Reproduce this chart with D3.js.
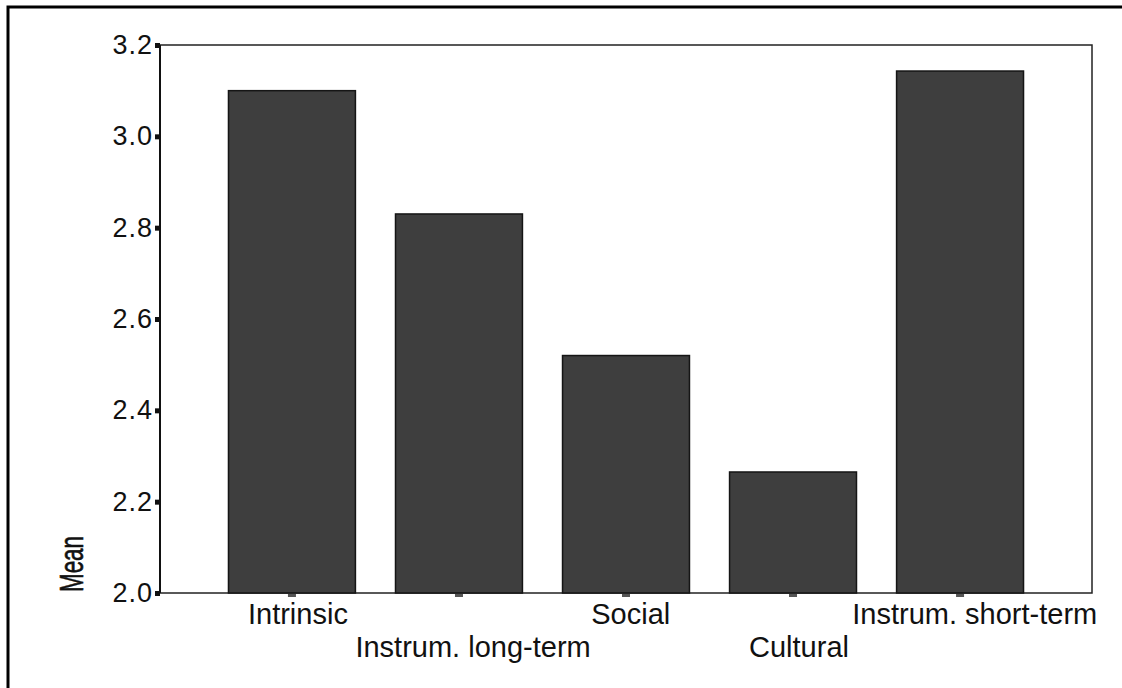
<!DOCTYPE html>
<html>
<head>
<meta charset="utf-8">
<script src="https://cdn.jsdelivr.net/npm/d3@7"></script>
<style>
  body { margin: 0; background: #fff; }
  text { font-family: "Liberation Sans", Arial, sans-serif; fill: #111; }
</style>
</head>
<body>
<script>
const categories = ['Intrinsic', 'Instrum. long-term', 'Social', 'Cultural', 'Instrum. short-term'];
const means = [3.10, 2.83, 2.52, 2.265, 3.143];
const yTicks = [2.0, 2.2, 2.4, 2.6, 2.8, 3.0, 3.2];

let width = 1122, height = 688;
let plot = { left: 160, right: 1092, top: 45, bottom: 593 };

let svg = d3.select('body').append('svg').attr('width', width).attr('height', height);

// outer frame (only left and top edges visible in the picture)
svg.append('rect')
  .attr('x', 8).attr('y', 7)
  .attr('width', 1300).attr('height', 900)
  .attr('fill', 'none').attr('stroke', '#000').attr('stroke-width', 3);

let x = d3.scaleBand()
  .domain(categories)
  .range([plot.left, plot.right])
  .paddingInner(0.24)
  .paddingOuter(0.41);

let y = d3.scaleLinear().domain([2.0, 3.2]).range([plot.bottom, plot.top]);

// plot box
svg.append('rect')
  .attr('x', plot.left).attr('y', plot.top)
  .attr('width', plot.right - plot.left).attr('height', plot.bottom - plot.top)
  .attr('fill', 'none').attr('stroke', '#222').attr('stroke-width', 1.5);

// bars
svg.append('g')
  .selectAll('rect')
  .data(categories)
  .enter()
    .append('rect')
    .attr('x', d => x(d))
    .attr('width', x.bandwidth())
    .attr('y', (d, i) => y(means[i]))
    .attr('height', (d, i) => y(2.0) - y(means[i]))
    .attr('fill', '#3e3e3e')
    .attr('stroke', '#151515')
    .attr('stroke-width', 1.5);

// left axis line (a bit heavier)
svg.append('line')
  .attr('x1', plot.left).attr('x2', plot.left)
  .attr('y1', plot.top).attr('y2', plot.bottom)
  .attr('stroke', '#111').attr('stroke-width', 2);

// y axis
let yAxis = svg.append('g')
  .attr('transform', `translate(${plot.left},0)`)
  .call(d3.axisLeft(y).tickValues(yTicks).tickFormat(d3.format('.1f')).tickSize(5).tickPadding(2));
yAxis.select('.domain').remove();
yAxis.selectAll('.tick line').attr('stroke', '#111').attr('stroke-width', 5);
yAxis.selectAll('.tick text')
  .style('font-size', '27px')
  .attr('letter-spacing', '1px')
  .attr('fill', '#111');

// x axis ticks: little dashes under the bars
svg.append('g')
  .selectAll('rect')
  .data(categories)
  .enter()
    .append('rect')
    .attr('x', d => x(d) + x.bandwidth() / 2 - 4)
    .attr('y', plot.bottom + 1)
    .attr('width', 8)
    .attr('height', 3)
    .attr('fill', '#555');

// staggered category labels - in the original they sit a little right of the tick
svg.append('g')
  .selectAll('text')
  .data(categories)
  .enter()
    .append('text')
    .attr('y', (d, i) => i % 2 === 0 ? 624 : 657)
    .attr('text-anchor', 'start')
    .style('font-size', '29px')
    .text(d => d)
    .each(function(d) {
      let w = this.getComputedTextLength();
      d3.select(this).attr('x', x(d) + x.bandwidth() / 2 - 0.44 * w);
    });

// y title
svg.append('text')
  .attr('transform', 'translate(83,564) rotate(-90)')
  .attr('text-anchor', 'middle')
  .style('font-size', '33px')
  .attr('stroke', '#111')
  .attr('stroke-width', 0.6)
  .attr('textLength', 56)
  .attr('lengthAdjust', 'spacingAndGlyphs')
  .text('Mean');
</script>
</body>
</html>
